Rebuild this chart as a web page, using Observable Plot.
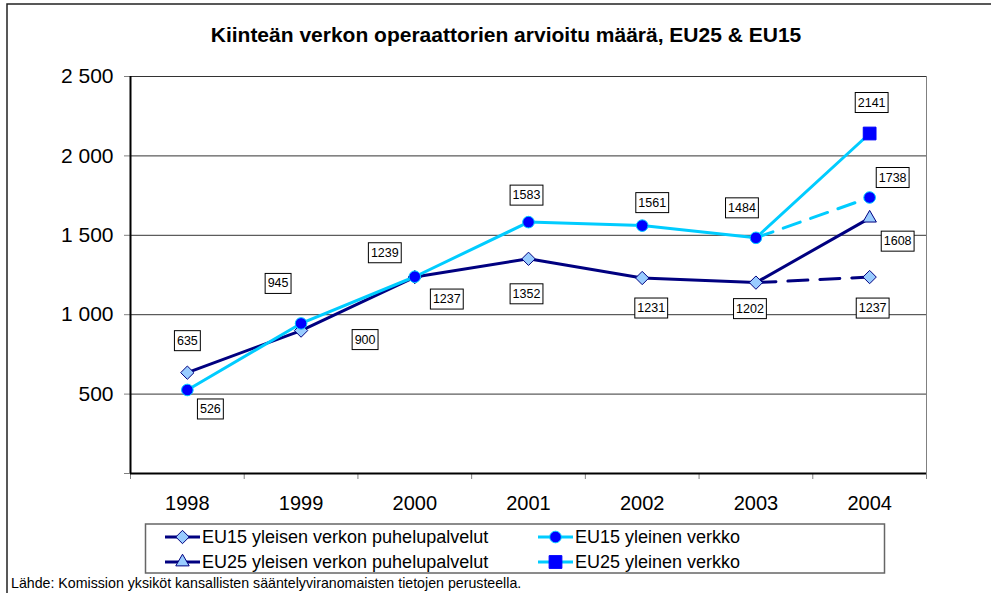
<!DOCTYPE html>
<html>
<head>
<meta charset="utf-8">
<script src="https://cdn.jsdelivr.net/npm/d3@7"></script>
<script src="https://cdn.jsdelivr.net/npm/@observablehq/plot@0.6"></script>
<style>
  html, body { margin: 0; padding: 0; background: #fff; }
  #wrap { position: relative; width: 991px; height: 593px; overflow: hidden; font-family: "Liberation Sans", Arial, sans-serif; }
  #wrap > svg { position: absolute; left: 0; top: 0; }
</style>
</head>
<body>
<div id="wrap"></div>
<script>
// ---- data ----
const years = [1998, 1999, 2000, 2001, 2002, 2003, 2004];
const eu15Puhelu = [635, 900, 1237, 1352, 1231, 1202, 1237];
const eu15Yleinen = [526, 945, 1239, 1583, 1561, 1484, 1738];
const eu25Years = [2003, 2004];
const eu25Puhelu = [1202, 1608];
const eu25Yleinen = [1484, 2141];
const yTicks = [0, 500, 1000, 1500, 2000, 2500];
const seriesNames = [
  "EU15 yleisen verkon puhelupalvelut",
  "EU15 yleinen verkko",
  "EU25 yleisen verkon puhelupalvelut",
  "EU25 yleinen verkko"
];
const titleText = "Kiinteän verkon operaattorien arvioitu määrä, EU25 & EU15";
const sourceText = "Lähde: Komission yksiköt kansallisten sääntelyviranomaisten tietojen perusteella.";
const dashFromYear = 2003;

// ---- layout (pixel offsets of the value labels from their points) ----
const offP15 = [[0,-32],[64,9],[32,22],[-2,35],[9,30],[-6,26],[3,31]];
const offY15 = [[23,19],[-23,-40],[-30,-24],[-2,-27],[10,-23],[-14,-30],[23,-20]];
const offP25 = [null,[28,23]];
const offY25 = [null,[2,-31]];

const NAVY = "#000080", CYAN = "#00CCFF", LIGHT = "#99CCFF", BLUE = "#0000FF";
const FONT = "'Liberation Sans', Arial, sans-serif";

const rows = (xs, vs) => xs.map((x, i) => ({year: x, value: vs[i]}));
const p15 = rows(years, eu15Puhelu);
const y15 = rows(years, eu15Yleinen);
const p25 = rows(eu25Years, eu25Puhelu);
const y25 = rows(eu25Years, eu25Yleinen);
const cut = years.indexOf(dashFromYear);

const X0 = years[0] - 0.5, X1 = years[years.length - 1] + 0.5;
const bounds = years.map(y => y - 0.5).concat([X1]);
const fmt = d => d === 0 ? "" : d3.format(",")(d).replace(/,/g, " ");

const labelMarks = [];
function addLabels(data, offs) {
  data.forEach((d, i) => {
    if (!offs[i]) return;
    labelMarks.push(Plot.text([d], {
      x: "year", y: "value", text: r => String(r.value),
      dx: offs[i][0], dy: offs[i][1], fontSize: 12.5, fill: "#000"
    }));
  });
}
addLabels(p15, offP15);
addLabels(y15, offY15);
addLabels(p25, offP25);
addLabels(y25, offY25);

const chart = Plot.plot({
  width: 991, height: 593,
  marginLeft: 130, marginRight: 65, marginTop: 76, marginBottom: 120,
  style: {fontFamily: FONT, background: "transparent", color: "#000", overflow: "visible"},
  x: {type: "linear", domain: [X0, X1]},
  y: {domain: [0, 2500]},
  marks: [
    Plot.gridY(yTicks.filter(v => v > 0), {stroke: "#000", strokeOpacity: 0.8, strokeWidth: 1}),
    Plot.ruleX([X1], {stroke: "#808080", strokeWidth: 1}),
    Plot.axisY({ticks: yTicks, tickSize: 6, tickPadding: 11, fontSize: 21, tickFormat: fmt, stroke: "#808080", label: null}),
    Plot.axisX({ticks: bounds, tickSize: 6, tickFormat: () => "", stroke: "#808080", label: null}),
    Plot.axisX({ticks: years, tickSize: 0, tickPadding: 22, fontSize: 20, tickFormat: d => String(d), label: null}),
    Plot.ruleX([X0], {stroke: "#000", strokeWidth: 2}),
    Plot.ruleY([0], {stroke: "#000", strokeWidth: 2}),
    // EU15 puhelupalvelut
    Plot.line(p15.slice(0, cut + 1), {x: "year", y: "value", stroke: NAVY, strokeWidth: 3}),
    Plot.line(p15.slice(cut), {x: "year", y: "value", stroke: NAVY, strokeWidth: 3, strokeDasharray: "20,12"}),
    // EU15 yleinen
    Plot.line(y15.slice(0, cut + 1), {x: "year", y: "value", stroke: CYAN, strokeWidth: 3}),
    Plot.line(y15.slice(cut), {x: "year", y: "value", stroke: CYAN, strokeWidth: 3, strokeDasharray: "18,11"}),
    // EU25
    Plot.line(p25, {x: "year", y: "value", stroke: NAVY, strokeWidth: 3}),
    Plot.line(y25, {x: "year", y: "value", stroke: CYAN, strokeWidth: 3}),
    Plot.dot(p15, {x: "year", y: "value", symbol: "diamond2", r: 6, fill: LIGHT, stroke: NAVY, strokeWidth: 1}),
    Plot.dot(y15, {x: "year", y: "value", symbol: "circle", r: 5.8, fill: BLUE, stroke: CYAN, strokeWidth: 1}),
    Plot.dot(p25.slice(1), {x: "year", y: "value", symbol: "triangle", r: 5, fill: LIGHT, stroke: NAVY, strokeWidth: 1}),
    Plot.dot(y25.slice(1), {x: "year", y: "value", symbol: "square", r: 7.2, fill: BLUE, stroke: BLUE, strokeWidth: 1}),
    ...labelMarks
  ]
});

const wrap = document.getElementById("wrap");
wrap.appendChild(chart);

// boxes behind value labels (the only plain text marks in the chart)
chart.querySelectorAll('g[aria-label="text"] text').forEach(t => {
  const b = t.getBBox();
  const r = document.createElementNS("http://www.w3.org/2000/svg", "rect");
  r.setAttribute("x", b.x - 2.5);
  r.setAttribute("y", b.y - 3);
  r.setAttribute("width", b.width + 5);
  r.setAttribute("height", b.height + 6);
  r.setAttribute("fill", "#fff");
  r.setAttribute("stroke", "#000");
  r.setAttribute("stroke-width", 1);
  const tr = t.getAttribute("transform");
  if (tr) r.setAttribute("transform", tr);
  t.parentNode.insertBefore(r, t);
});

// overlay: frame, title, legend, source
const ov = d3.select(wrap).append("svg")
  .attr("width", 991).attr("height", 593)
  .style("font-family", FONT);

ov.append("path").attr("d", "M7,593V4H991").attr("fill", "none").attr("stroke", "#222").attr("stroke-width", 1.5);

ov.append("text").attr("x", 506).attr("y", 34).attr("text-anchor", "middle")
  .attr("dominant-baseline", "central").attr("font-weight", "bold").attr("font-size", 21)
  .text(titleText);

ov.append("rect").attr("x", 145.5).attr("y", 524).attr("width", 739).attr("height", 49)
  .attr("fill", "#fff").attr("stroke", "#666").attr("stroke-width", 1.5);

const sym = (type, r) => d3.symbol(type, Math.PI * r * r)();
const legendItems = [
  {name: seriesNames[0], color: NAVY, sym: sym(d3.symbolDiamond2, 6), fill: LIGHT, stroke: NAVY, x: 165, y: 537},
  {name: seriesNames[1], color: CYAN, sym: sym(d3.symbolCircle, 5.8), fill: BLUE, stroke: CYAN, x: 538, y: 537},
  {name: seriesNames[2], color: NAVY, sym: sym(d3.symbolTriangle, 5), fill: LIGHT, stroke: NAVY, x: 165, y: 562},
  {name: seriesNames[3], color: CYAN, sym: sym(d3.symbolSquare, 7.2), fill: BLUE, stroke: BLUE, x: 538, y: 562}
];
legendItems.forEach(it => {
  const g = ov.append("g").attr("transform", `translate(${it.x},${it.y})`);
  g.append("line").attr("x1", 0).attr("x2", 35).attr("stroke", it.color).attr("stroke-width", 3);
  g.append("path").attr("d", it.sym).attr("transform", "translate(17.5,0)")
    .attr("fill", it.fill).attr("stroke", it.stroke).attr("stroke-width", 1);
  g.append("text").attr("x", 37).attr("dominant-baseline", "central").attr("font-size", 18).text(it.name);
});

ov.append("text").attr("x", 11).attr("y", 583).attr("dominant-baseline", "central")
  .attr("font-size", 14.2).text(sourceText);
</script>
</body>
</html>
